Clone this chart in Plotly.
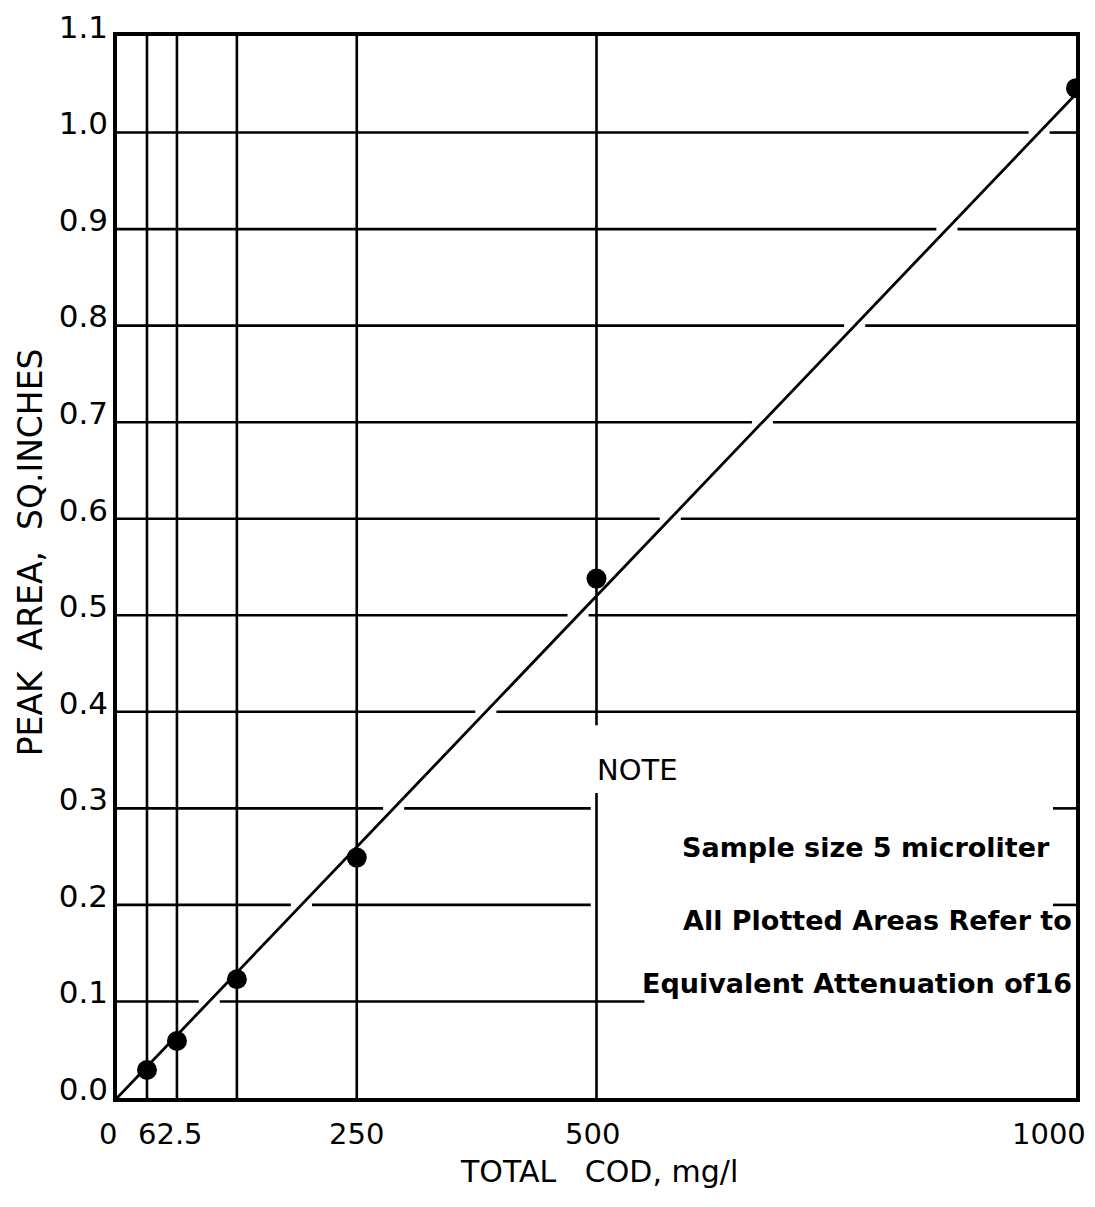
import plotly.graph_objects as go

# ---- data ----
cod = [31.25, 62.5, 125, 250, 500, 1000]                 # Total COD, mg/l
peak_area = [0.029, 0.059, 0.123, 0.249, 0.538, 1.046]   # sq. inches
fit_x = [0, 1000]
fit_y = [0, 1.04]

x_tick_vals = [0, 62.5, 250, 500, 1000]
x_tick_text = ["0", "62.5", "250", "500", "1000"]
y_tick_vals = [round(0.1 * i, 1) for i in range(12)]
y_tick_text = ["%.1f" % v for v in y_tick_vals]
y_tick_text[-1] = "1.1"

v_grid = [31.25, 62.5, 125, 250]
h_grid = [0.1, 0.2, 0.3, 0.4, 0.5, 0.6, 0.7, 0.8, 0.9, 1.0]
# horizontal grid lines cut short by the note box
h_left_end = {0.1: 550, 0.2: 494, 0.3: 494}
h_right_start = {0.2: 976, 0.3: 976}
v500_segments = [(0, 0.316), (0.386, 1.1)]

note_lines = ["Sample size 5 microliter", "All Plotted Areas Refer to", "Equivalent Attenuation of16"]
note_x = [781, 1000, 1000]
note_y = [0.259, 0.184, 0.119]

fig = go.Figure()

# vertical grid lines
gx, gy = [], []
for v in v_grid:
    gx += [v, v, None]
    gy += [0, 1.1, None]
for a, b in v500_segments:
    gx += [500, 500, None]
    gy += [a, b, None]

# horizontal grid lines, broken where the fit line crosses
slope = fit_y[1] / fit_x[1]
gap = 11
for h in h_grid:
    xc = h / slope
    left_end = h_left_end.get(h, 1000)
    segs = [(0, min(xc - gap, left_end)), (xc + gap, left_end)]
    if h in h_right_start:
        segs.append((h_right_start[h], 1000))
    for a, b in segs:
        if b > a:
            gx += [a, b, None]
            gy += [h, h, None]

fig.add_trace(go.Scatter(x=gx, y=gy, mode="lines",
                         line=dict(color="black", width=2.6),
                         hoverinfo="skip", showlegend=False))

# fit line
fig.add_trace(go.Scatter(x=fit_x, y=fit_y, mode="lines",
                         line=dict(color="black", width=2.8),
                         hoverinfo="skip", showlegend=False))
# data points
fig.add_trace(go.Scatter(x=cod, y=peak_area, mode="markers",
                         marker=dict(color="black", size=20),
                         showlegend=False))

y_tick_font = dict(family="DejaVu Sans", size=31, color="black")
x_tick_font = dict(family="DejaVu Sans", size=29, color="black")

# x tick labels as annotations (hand-lettered offsets)
x_anchor = ["right", "center", "center", "center", "right"]
x_shift = [2, -6, 0, -4, 12]
for v, t, an, sh in zip(x_tick_vals, x_tick_text, x_anchor, x_shift):
    fig.add_annotation(x=v, y=-0.034, xref="x", yref="paper", text=t,
                       showarrow=False, xanchor=an, yanchor="middle",
                       xshift=sh, font=x_tick_font)

# axis titles
fig.add_annotation(x=0.503, y=-0.069, xref="paper", yref="paper",
                   text="TOTAL   COD, mg/l", showarrow=False,
                   xanchor="center", yanchor="middle",
                   font=dict(family="DejaVu Sans", size=30, color="black"))
fig.add_annotation(x=-0.0905, y=0.514, xref="paper", yref="paper",
                   text="PEAK  AREA,  SQ.INCHES", showarrow=False,
                   textangle=-90, xanchor="center", yanchor="middle",
                   font=dict(family="DejaVu Sans", size=33, color="black"))

# note
fig.add_annotation(x=498, y=0.340, xref="x", yref="y", text="NOTE",
                   showarrow=False, xanchor="left", yanchor="middle",
                   font=dict(family="DejaVu Sans", size=29, color="black"))
note_anchor = ["center", "right", "right"]
for t, xx, an, yy in zip(note_lines, note_x, note_anchor, note_y):
    fig.add_annotation(x=xx, y=yy, xref="x", yref="y", text="<b>" + t + "</b>",
                       showarrow=False, xanchor=an, yanchor="middle",
                       xshift=-2 if an == "right" else 0,
                       font=dict(family="DejaVu Sans", size=27, color="black"))

fig.update_layout(
    width=1087, height=1199,
    margin=dict(l=109, r=19, t=28, b=109, autoexpand=False),
    paper_bgcolor="white", plot_bgcolor="white",
    xaxis=dict(range=[0, 1000], showgrid=False, zeroline=False,
               showline=True, mirror=True, linecolor="black", linewidth=3.5,
               showticklabels=False, ticks="", automargin=False),
    yaxis=dict(range=[0, 1.1], showgrid=False, zeroline=False,
               showline=True, mirror=True, linecolor="black", linewidth=3.5,
               tickvals=y_tick_vals, ticktext=y_tick_text, ticks="",
               ticklabelshift=-9, ticklabelstandoff=-1, tickfont=y_tick_font,
               automargin=False),
)

fig.write_html("out.html")
